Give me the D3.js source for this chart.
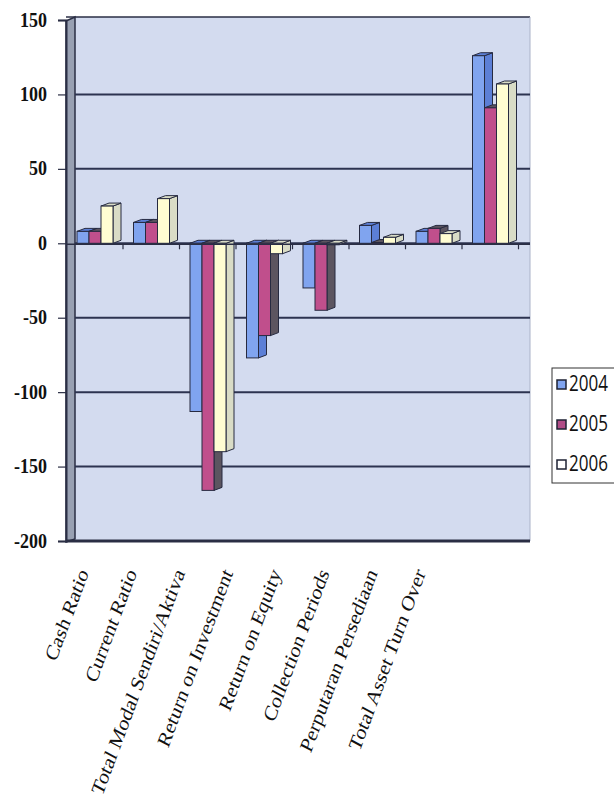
<!DOCTYPE html>
<html>
<head>
<meta charset="utf-8">
<script src="https://cdn.jsdelivr.net/npm/d3@7/dist/d3.min.js"></script>
<style>
  html, body { margin: 0; padding: 0; background: #ffffff; }
  svg { display: block; }
</style>
</head>
<body>
<svg id="chart" width="614" height="806"></svg>
<script>
// ---- data ----
const categories = ["Cash Ratio", "Current Ratio", "Total Modal Sendiri/Aktiva", "Return on Investment",
  "Return on Equity", "Collection Periods", "Perputaran Persediaan", "Total Asset Turn Over"];
const years = ["2004", "2005", "2006"];
const values2004 = [8, 14, -113, -77, -30, 12, 8, 126];
const values2005 = [8, 14, -166, -62, -45, 0.5, 10, 91];
const values2006 = [25, 30, -140, -7, -1, 4, 6.5, 107];
const yTickValues = [150, 100, 50, 0, -50, -100, -150, -200];

const seriesValues = [values2004, values2005, values2006];
const frontColors = ["#80a4ef", "#c04f8c", "#fffdd2"];
const sideColors = ["#5c7fd6", "#5c5560", "#d9dcc6"];
const legendColors = ["#80a4ef", "#b04c86", "#ffffff"];

const svg = d3.select("#chart");
const k = 1.2; // vertical stretch of the scanned text

const y = d3.scaleLinear().domain([-200, 150]).range([541, 20]);
const x0 = d3.scaleBand().domain(categories).range([66.5, 518.5]).padding(0);
const x1 = d3.scaleBand().domain(years).range([10.5, 46.5]).padding(0);
const labelX = d3.scalePoint().domain(categories).range([89, 426]);

const wallLeft = 75, wallRight = 530, wallTop = 17, wallBottom = 541;
const dx = 8, dy = 3;

// back wall
svg.append("rect").attr("x", wallLeft).attr("y", wallTop).attr("width", wallRight - wallLeft)
  .attr("height", wallBottom - wallTop).attr("fill", "#d3dbef");
// left side wall
svg.append("polygon")
  .attr("points", [[66, wallTop + 4], [wallLeft, wallTop], [wallLeft, wallBottom - 2], [66, wallBottom + 1]].join(" "))
  .attr("fill", "#98a0b2").attr("stroke", "#2a2e44").attr("stroke-width", 1.5);
// top border
svg.append("line").attr("x1", 66).attr("x2", wallRight).attr("y1", wallTop).attr("y2", wallTop)
  .attr("stroke", "#2a2e44").attr("stroke-width", 1.5);
// right edge
svg.append("line").attr("x1", wallRight).attr("x2", wallRight).attr("y1", wallTop).attr("y2", wallBottom)
  .attr("stroke", "#aab2c8").attr("stroke-width", 1);

// gridlines
svg.append("g").selectAll("line").data(yTickValues.filter(v => v !== -200 && v !== 150)).join("line")
  .attr("x1", wallLeft).attr("x2", wallRight)
  .attr("y1", d => y(d)).attr("y2", d => y(d))
  .attr("stroke", "#2c3350").attr("stroke-width", 2);
// floor
svg.append("line").attr("x1", 66).attr("x2", wallRight).attr("y1", y(-200)).attr("y2", y(-200))
  .attr("stroke", "#2a2e44").attr("stroke-width", 3);

// y axis (ticks + labels)
const yAxis = d3.axisLeft(y).tickValues(yTickValues).tickFormat(d => String(d)).tickSize(8).tickPadding(11);
const gy = svg.append("g").attr("transform", "translate(66,0)").call(yAxis);
gy.select(".domain").attr("stroke", "#2a2e44").attr("stroke-width", 2);
gy.selectAll(".tick line").attr("stroke", "#2a2e44").attr("stroke-width", 1.2);
gy.selectAll(".tick text")
  .attr("font-family", "'Liberation Serif', 'Times New Roman', serif")
  .attr("font-weight", "bold").attr("font-size", 18).attr("fill", "#111")
  .attr("dy", null).attr("y", 0)
  .attr("transform", `translate(0,6) scale(1,${k})`);

// bars
const y0 = y(0);
const bars = [];
categories.forEach((c, i) => {
  years.forEach((yr, j) => {
    bars.push({ cat: c, year: yr, j: j, v: seriesValues[j][i] });
  });
});
const gBars = svg.append("g");
bars.forEach(b => {
  const bx = x0(b.cat) + x1(b.year);
  const bw = x1.bandwidth();
  const top = Math.min(y(b.v), y0);
  const bot = Math.max(y(b.v), y0);
  const g = gBars.append("g");
  g.append("polygon")
    .attr("points", [[bx + bw, top], [bx + bw + dx, top - dy], [bx + bw + dx, bot - dy], [bx + bw, bot]].join(" "))
    .attr("fill", sideColors[b.j]).attr("stroke", "#262a40").attr("stroke-width", 1);
  g.append("polygon")
    .attr("points", [[bx, top], [bx + dx, top - dy], [bx + bw + dx, top - dy], [bx + bw, top]].join(" "))
    .attr("fill", sideColors[b.j]).attr("stroke", "#262a40").attr("stroke-width", 1);
  g.append("rect").attr("x", bx).attr("y", top).attr("width", bw).attr("height", Math.max(bot - top, 0.5))
    .attr("fill", frontColors[b.j]).attr("stroke", "#262a40").attr("stroke-width", 1);
});

// zero axis line and category ticks
svg.append("line").attr("x1", 66).attr("x2", wallRight).attr("y1", y0 + 1).attr("y2", y0 + 1)
  .attr("stroke", "#2a2e44").attr("stroke-width", 1.5);
svg.append("g").selectAll("line").data(categories.slice(1).concat(["__end"])).join("line")
  .attr("x1", d => d === "__end" ? x0.range()[1] : x0(d))
  .attr("x2", d => d === "__end" ? x0.range()[1] : x0(d))
  .attr("y1", y0 + 1).attr("y2", y0 + 6)
  .attr("stroke", "#2a2e44").attr("stroke-width", 1.2);

// x labels
svg.append("g").selectAll("text").data(categories).join("text")
  .attr("transform", d => `translate(${labelX(d)},573) scale(1,${k}) rotate(-66)`)
  .attr("text-anchor", "end")
  .attr("font-family", "'Liberation Serif', 'Times New Roman', serif")
  .attr("font-size", 18.5).attr("fill", "#111")
  .text(d => d);

// legend
const lg = svg.append("g");
lg.append("rect").attr("x", 552).attr("y", 368).attr("width", 70).attr("height", 115)
  .attr("fill", "#ffffff").attr("stroke", "#333").attr("stroke-width", 1);
const legendY = d3.scalePoint().domain(years).range([385, 465]);
years.forEach((yr, j) => {
  lg.append("rect").attr("x", 557).attr("y", legendY(yr) - 5).attr("width", 9).attr("height", 9)
    .attr("fill", legendColors[j]).attr("stroke", "#1e2233").attr("stroke-width", 1.5);
  lg.append("text")
    .attr("transform", `translate(569,${legendY(yr) + 6}) scale(1,1.25)`)
    .attr("font-family", "'Open Sans', sans-serif").attr("font-size", 17).attr("fill", "#111")
    .text(yr);
});
</script>
</body>
</html>
